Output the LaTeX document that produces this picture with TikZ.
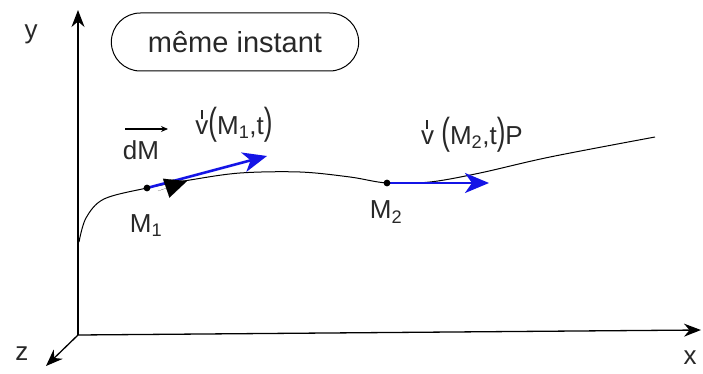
\documentclass[tikz,border=0pt]{standalone}
\usepackage{fontspec}
\setmainfont{Liberation Sans}
\usetikzlibrary{arrows.meta,shapes.misc}
\definecolor{vblue}{RGB}{20,20,230}
\definecolor{ink}{RGB}{40,40,40}
\newcommand{\tickv}{\makebox[0pt][l]{\raisebox{0.62em}{\kern0.2em\rule{0.08em}{0.32em}}}v}
\begin{document}
\begin{tikzpicture}[x=1pt,y=-1pt,
  lbl/.style={inner sep=0pt,text=ink,font=\fontsize{26}{30}\selectfont},
  axis/.style={line width=1.3pt,-{Stealth[length=17pt,width=13pt]}},
  vel/.style={vblue,line width=2.6pt,-{Stealth[length=24pt,width=20pt,inset=7pt]}}]
\useasboundingbox (0,0) rectangle (703,374);
% axes
\coordinate (O) at (78,335);
\coordinate (yend) at (78,10);
\coordinate (xend) at (701,330);
\coordinate (zend) at (46,366);
\draw[axis] (O) -- (yend);
\draw[axis] (O) -- (xend);
\draw[axis] (O) -- (zend);
\node[lbl] (ylab) at (31,34) {y};
\node[lbl] (xlab) at (690,358) {x};
\node[lbl] (zlab) at (22,354) {z};
% box
\node[draw,line width=1pt,rounded rectangle,minimum width=254pt,minimum height=58pt,
  text=ink,font=\fontsize{29}{32}\selectfont] (box) at (235,42) {même instant};
% trajectory
\coordinate (M1) at (147,188);
\coordinate (M2) at (387,183);
\draw[line width=1pt] plot[smooth,tension=0.55] coordinates {(79,242) (86,218) (104,199) (147,188) (190,180) (240,173) (300,172) (350,177) (387,183) (430,182) (480,173) (550,157) (655,137)};
% blue velocity arrows
\coordinate (v1end) at (267,156);
\coordinate (v2end) at (489,183);
\draw[vel] (M1) -- (v1end);
\draw[vel] (M2) -- (v2end);
% black dM arrowhead
\coordinate (dMa) at (158,191);
\coordinate (dMb) at (187,181);
\draw[-{Triangle[length=22pt,width=20pt]},line width=0.1pt] (dMa) -- (dMb);
\fill (M1) circle (3.4pt);
\fill (M2) circle (3.4pt);
% labels
\node[lbl] (M1lab) at (146,226) {M\textsubscript{1}};
\node[lbl] (M2lab) at (386,212) {M\textsubscript{2}};
\node[lbl] (dMlab) at (141,150) {dM};
\coordinate (dMl) at (125,129);
\coordinate (dMr) at (168,129);
\draw[line width=1.2pt,-{Stealth[length=7pt,width=6pt]}] (dMl) -- (dMr);
\node[lbl] (v1lab) at (234,125) {\tickv\scalebox{1}[1.45]{(}M\textsubscript{1},t\scalebox{1}[1.45]{)}};
\node[lbl] (v2lab) at (472,135) {\tickv\ \scalebox{1}[1.45]{(}M\textsubscript{2},t\scalebox{1}[1.45]{)}P};
\end{tikzpicture}
\end{document}
